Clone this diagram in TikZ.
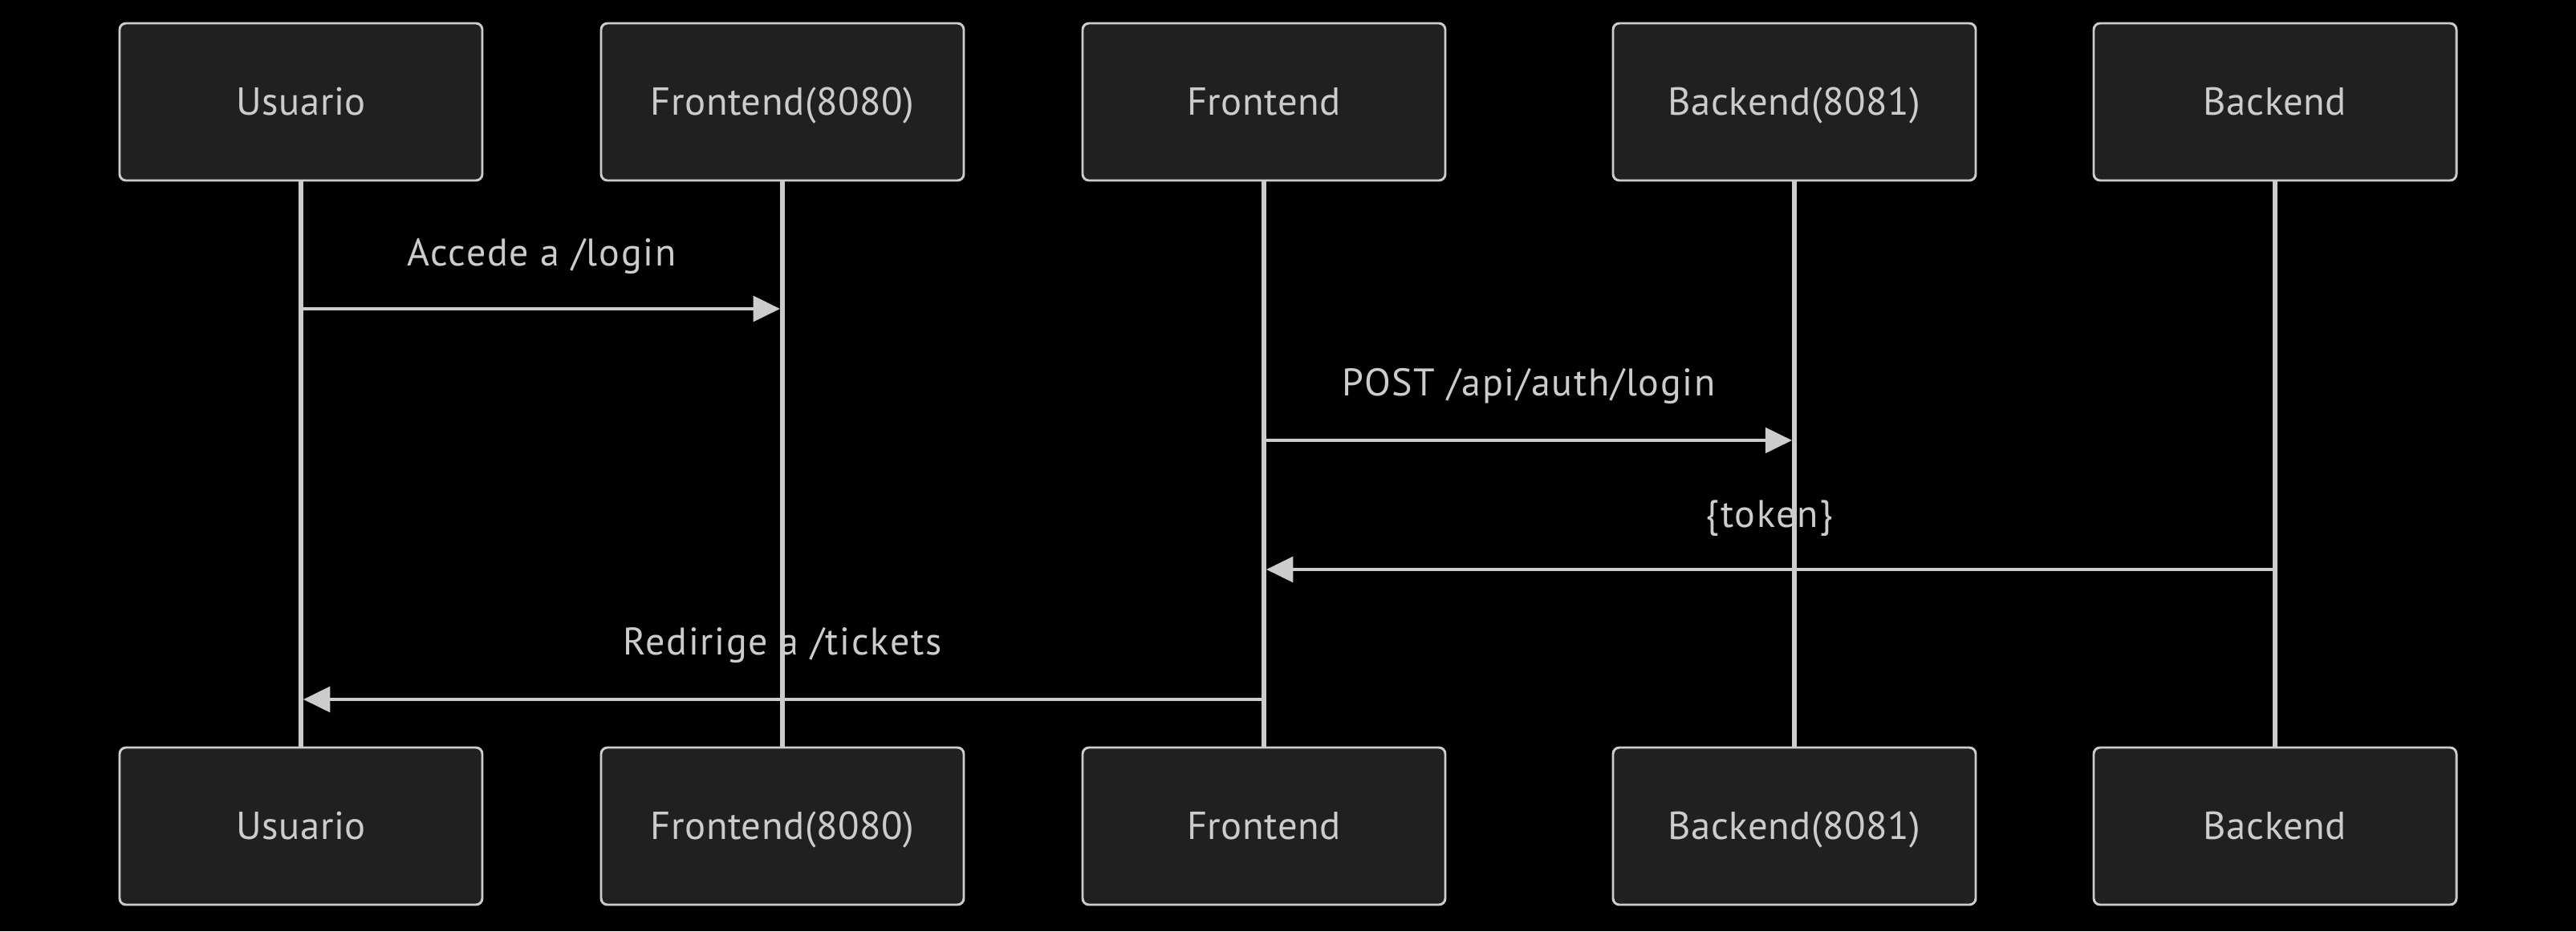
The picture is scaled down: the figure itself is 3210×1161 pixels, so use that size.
\documentclass[tikz,border=0pt]{standalone}
\usepackage{fontspec}
\setmainfont{PT Sans}
\usetikzlibrary{arrows.meta}
\definecolor{actorfill}{HTML}{1F2020}
\definecolor{linec}{HTML}{CCCCCC}
\definecolor{txtc}{HTML}{CCCCCC}
\begin{document}
\begin{tikzpicture}[x=0.75pt,y=-0.75pt,
  actor/.style={draw=linec, fill=actorfill, line width=2.2pt, rounded corners=6pt,
    minimum width=339pt, minimum height=147pt, inner sep=0pt, text=txtc,
    text height=25pt, text depth=0pt,
    font=\fontsize{36.5}{40}\selectfont\addfontfeature{LetterSpace=1.2}},
  lifeline/.style={draw=linec, line width=4.4pt},
  msg/.style={draw=linec, line width=3.6pt, shorten >=2.2pt,
    -{Triangle[length=25pt,width=23.5pt]}},
  msglabel/.style={text=txtc, inner sep=0pt, text height=25pt, text depth=0pt,
    font=\fontsize{36}{40}\selectfont\addfontfeature{LetterSpace=3.6}}]
\fill[black] (0,0) rectangle (3210,1161);
\useasboundingbox (0,0) rectangle (3210,1161);
% actors top
\node[actor] (u1) at (375,127) {Usuario};
\node[actor] (f1) at (975,127) {Frontend(8080)};
\node[actor] (fr1) at (1575,127) {Frontend};
\node[actor] (b1) at (2236,127) {Backend(8081)};
\node[actor] (bk1) at (2835,127) {Backend};
% actors bottom
\node[actor] (u2) at (375,1030) {Usuario};
\node[actor] (f2) at (975,1030) {Frontend(8080)};
\node[actor] (fr2) at (1575,1030) {Frontend};
\node[actor] (b2) at (2236,1030) {Backend(8081)};
\node[actor] (bk2) at (2835,1030) {Backend};
% lifelines
\foreach \a/\b in {u1/u2,f1/f2,fr1/fr2,b1/b2,bk1/bk2}
  \draw[lifeline] (\a.south) -- (\b.north);
% message points
\coordinate (m1s) at (u1 |- 0,385);
\coordinate (m1e) at (f1 |- 0,385);
\coordinate (m2s) at (fr1 |- 0,549);
\coordinate (m2e) at (b1 |- 0,549);
\coordinate (m3s) at (bk1 |- 0,710);
\coordinate (m3e) at (fr1 |- 0,710);
\coordinate (m4s) at (fr1 |- 0,872);
\coordinate (m4e) at (u1 |- 0,872);
\draw[msg] (m1s) -- (m1e);
\draw[msg] (m2s) -- (m2e);
\draw[msg] (m3s) -- (m3e);
\draw[msg] (m4s) -- (m4e);
\node[msglabel] (l1) at (675,315) {Accede a /login};
\node[msglabel] (l2) at (1905,477) {POST /api/auth/login};
\node[msglabel] (l3) at (2205,641) {\{token\}};
\node[msglabel] (l4) at (975,800) {Redirige a /tickets};
\end{tikzpicture}
\end{document}
